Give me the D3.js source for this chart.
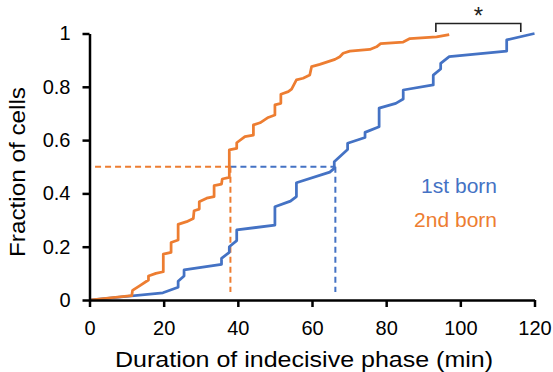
<!DOCTYPE html>
<html><head><meta charset="utf-8">
<script src="https://cdn.jsdelivr.net/npm/d3@7"></script>
<style>
html,body{margin:0;padding:0;background:#fff;}
svg{display:block;font-family:"Liberation Sans",Arial,sans-serif;}
</style></head>
<body><svg id="c" width="553" height="372"></svg>
<script>
const xTicks = [0,20,40,60,80,100,120];
const yTicks = [0,0.2,0.4,0.6,0.8,1];
const yTickLabels = ["0","0.2","0.4","0.6","0.8","1"];
const seriesNames = ["1st born","2nd born"];
const colors = ["#4472C4","#ED7D31"];
const firstBorn = [[0,0],[19.8,0.027],[23.9,0.048],[23.9,0.07],[25.5,0.09],[25.5,0.113],[35.6,0.134],[35.6,0.156],[37.7,0.179],[37.7,0.2],[39.7,0.223],[39.7,0.263],[50,0.281],[50,0.35],[54.2,0.371],[55.8,0.388],[55.8,0.44],[64.8,0.48],[66,0.494],[66,0.519],[69.6,0.565],[69.6,0.588],[74.3,0.61],[74.3,0.629],[78.1,0.65],[78.1,0.72],[82.6,0.738],[84.6,0.754],[84.6,0.788],[92.7,0.807],[92.7,0.844],[94.7,0.867],[94.7,0.888],[97,0.913],[112.5,0.934],[112.5,0.976],[120,1]];
const secondBorn = [[0,0],[11.4,0.016],[11.6,0.036],[13.6,0.054],[15.9,0.075],[15.9,0.09],[17.9,0.1],[19.9,0.106],[19.9,0.172],[22,0.179],[22,0.216],[23.9,0.225],[23.9,0.284],[26.2,0.294],[28,0.306],[28.2,0.335],[29.6,0.341],[29.6,0.369],[31.6,0.382],[33.6,0.388],[33.6,0.429],[35.6,0.435],[35.8,0.454],[37.7,0.46],[37.7,0.563],[39.7,0.569],[39.7,0.59],[41.9,0.613],[44.2,0.619],[44.2,0.657],[46,0.665],[48.2,0.685],[50,0.694],[50,0.732],[51.6,0.738],[51.6,0.772],[53.6,0.782],[54.5,0.791],[55.8,0.826],[57.6,0.832],[59.4,0.844],[59.9,0.876],[62.1,0.884],[66.2,0.903],[67.5,0.913],[68.4,0.926],[70.2,0.934],[75.6,0.94],[77.4,0.95],[78.5,0.962],[84.6,0.968],[86.4,0.981],[93.6,0.987],[97,0.996]];
const medians = [66.3, 38];
const medianLevel = 0.5;
const bracket = [93.4, 116.3];

const svg = d3.select("#c");
const x = d3.scaleLinear().domain([0,120]).range([89.5,534.5]);
const y = d3.scaleLinear().domain([0,1]).range([300,33.5]);

// dashed median guides
const g = svg.append("g");
g.append("line").attr("x1",x(1.5)).attr("x2",x(medians[1])).attr("y1",y(medianLevel)).attr("y2",y(medianLevel))
 .attr("stroke",colors[1]).attr("stroke-width",2).attr("stroke-dasharray","6,4");
g.append("line").attr("x1",x(medians[1])).attr("x2",x(medians[0])).attr("y1",y(medianLevel)).attr("y2",y(medianLevel))
 .attr("stroke",colors[0]).attr("stroke-width",2).attr("stroke-dasharray","6,4");
medians.forEach((m,i)=>{
  g.append("line").attr("x1",x(m)).attr("x2",x(m)).attr("y1",y(medianLevel)).attr("y2",y(0.03))
   .attr("stroke",colors[i]).attr("stroke-width",2).attr("stroke-dasharray","6,4");
});

const line = d3.line().x(d=>x(d[0])).y(d=>y(d[1]));
[firstBorn, secondBorn].forEach((s,i)=>{
  svg.append("path").datum(s).attr("d",line).attr("fill","none")
   .attr("stroke",colors[i]).attr("stroke-width",2.75).attr("stroke-linejoin","round");
});

// axes
const xa = svg.append("g").attr("transform","translate(0,300)")
  .call(d3.axisBottom(x).tickValues(xTicks).tickSize(7).tickSizeOuter(0).tickPadding(14).tickFormat(d3.format("d")));
const ya = svg.append("g").attr("transform","translate(89.5,0)")
  .call(d3.axisLeft(y).tickValues(yTicks).tickSize(7).tickSizeOuter(0).tickPadding(12).tickFormat((d,i)=>yTickLabels[i]));
[xa,ya].forEach(a=>{
  a.select(".domain").attr("stroke","#000").attr("stroke-width",2.5);
  a.selectAll(".tick line").attr("stroke","#000").attr("stroke-width",2.5);
  a.selectAll("text").attr("fill","#000").style("font-size","20px").style("font-family","'Liberation Sans',Arial,sans-serif");
});

// axis titles
svg.append("text").attr("x",115).attr("y",367).attr("font-size",22).attr("fill","#000")
  .attr("textLength",378).attr("lengthAdjust","spacingAndGlyphs").text("Duration of indecisive phase (min)");
svg.append("text").attr("transform","translate(25,257) rotate(-90)").attr("font-size",22).attr("fill","#000")
  .attr("textLength",170).attr("lengthAdjust","spacingAndGlyphs").text("Fraction of cells");

// legend labels
svg.append("text").attr("x",497).attr("y",193).attr("text-anchor","end").attr("font-size",21).attr("fill",colors[0]).text(seriesNames[0]);
svg.append("text").attr("x",497).attr("y",227).attr("text-anchor","end").attr("font-size",21).attr("fill",colors[1]).text(seriesNames[1]);

// significance bracket
svg.append("path").attr("d",`M${x(bracket[0])},32V23.5H${x(bracket[1])}V32`).attr("fill","none").attr("stroke","#222").attr("stroke-width",1.6);
svg.append("text").attr("x",(x(bracket[0])+x(bracket[1]))/2).attr("y",24).attr("text-anchor","middle").attr("font-size",24).attr("fill","#222").text("*");
</script></body></html>
